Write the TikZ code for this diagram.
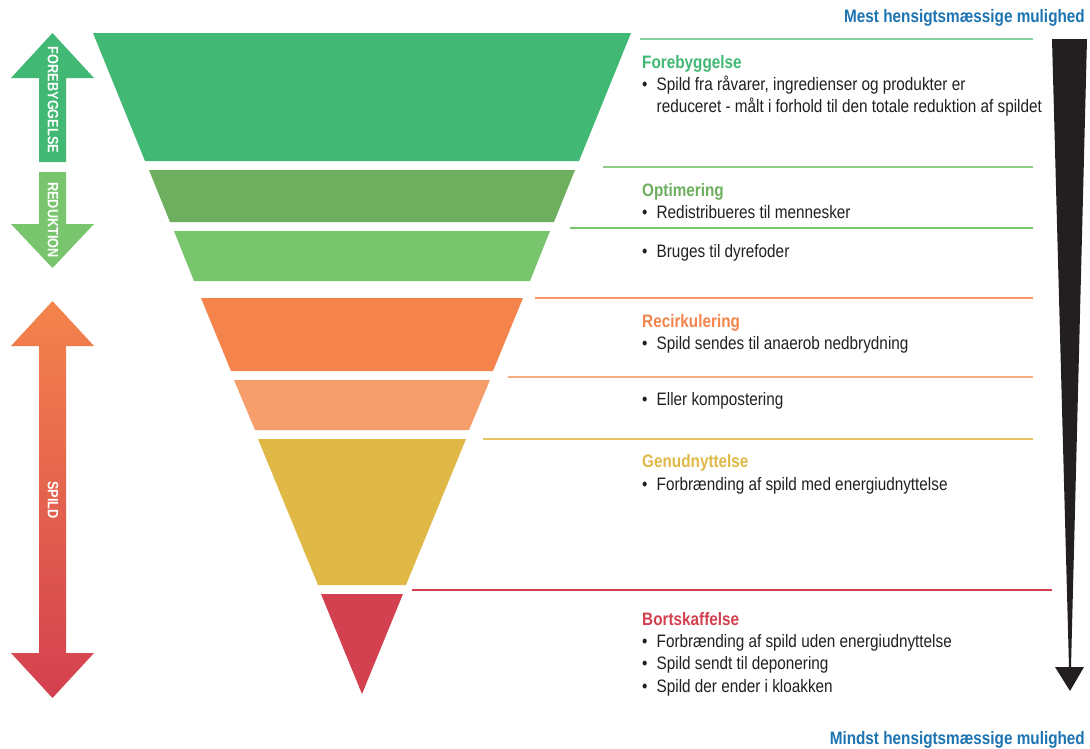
\documentclass[tikz,border=0pt]{standalone}
\usepackage{fontspec}
\setmainfont[FakeStretch=0.85]{Liberation Sans}

\definecolor{fgreen}{HTML}{41B873}
\definecolor{ogreen}{HTML}{6DAF5F}
\definecolor{lgreen}{HTML}{79C56E}
\definecolor{rorange}{HTML}{F4844C}
\definecolor{lorange}{HTML}{F69D6C}
\definecolor{gyellow}{HTML}{E0B846}
\definecolor{bred}{HTML}{D3404F}
\definecolor{tgray}{HTML}{231F20}
\definecolor{mblue}{HTML}{1C74B2}

\newcommand{\bul}{\makebox[14.5pt][l]{\textbullet}}

\begin{document}
\begin{tikzpicture}[x=1pt,y=-1pt,
    txt/.style={anchor=base west, inner sep=0pt, text=tgray, font=\fontsize{18}{21}\selectfont},
    head/.style={txt, font=\fontsize{18}{21}\selectfont\bfseries},
    side/.style={rotate=-90, inner sep=0pt, text=white, font=\fontsize{15}{18}\selectfont\bfseries},
    sep/.style={line width=1.2pt}]
  \fill [white] (0,0) rectangle (1090,748);
  \useasboundingbox (0,0) rectangle (1090,748);

  % funnel
  \fill [fgreen] (93,33) -- (631,33) -- (579,161) -- (145,161) -- cycle;
  \fill [ogreen] (149,170) -- (575,170) -- (554,222) -- (170,222) -- cycle;
  \fill [lgreen] (174,231) -- (550,231) -- (530,281) -- (194,281) -- cycle;
  \fill [rorange] (201,298) -- (523,298) -- (493,371) -- (231,371) -- cycle;
  \fill [lorange] (234,380) -- (490,380) -- (469,430) -- (255,430) -- cycle;
  \fill [gyellow] (258,439) -- (466,439) -- (406,585) -- (318,585) -- cycle;
  \fill [bred] (321,594) -- (403,594) -- (362,694) -- cycle;

  % left arrows
  \fill [fgreen] (52.5,33) -- (94,78) -- (66,78) -- (66,162) -- (39,162) -- (39,78) -- (11,78) -- cycle;
  \fill [lgreen] (39,172) -- (66,172) -- (66,224) -- (94,224) -- (52.5,268) -- (11,224) -- (39,224) -- cycle;
  \shade [top color=rorange, bottom color=bred] (52.5,301) -- (94,346) -- (66,346) -- (66,653) -- (94,653)
    -- (52.5,698) -- (11,653) -- (39,653) -- (39,346) -- (11,346) -- cycle;
  \node [side] (forebyg) at (53,100) {FOREBYGGELSE};
  \node [side] (reduk) at (53,220) {REDUKTION};
  \node [side] (spild) at (53,500) {SPILD};

  % black wedge
  \fill [tgray] (1052,39) -- (1087,39) -- (1071,667) -- (1084,667) -- (1070,691) -- (1055,667) -- (1069,667) -- cycle;

  % separators
  \draw [sep, fgreen!65] (640,39) -- (1033,39);
  \draw [sep, lgreen!85] (603,167) -- (1033,167);
  \draw [sep, lgreen] (570,228) -- (1033,228);
  \draw [sep, rorange!85] (535,298) -- (1033,298);
  \draw [sep, lorange!85] (508,377) -- (1033,377);
  \draw [sep, gyellow!85] (483,439) -- (1033,439);
  \draw [sep, bred] (412,590) -- (1052,590);

  % texts
  \node [head, anchor=base east, text=mblue] (mest) at (1085,22.5) {Mest hensigtsmæssige mulighed};
  \node [head, anchor=base east, text=mblue] (mindst) at (1085,744.5) {Mindst hensigtsmæssige mulighed};

  \node [head, text=fgreen] (fb) at (642,68.5) {Forebyggelse};
  \node [txt] (fb1) at (642,90.5) {\bul Spild fra råvarer, ingredienser og produkter er};
  \node [txt] (fb2) at (656.5,112.5) {reduceret - målt i forhold til den totale reduktion af spildet};

  \node [head, text=ogreen] (op) at (642,196.5) {Optimering};
  \node [txt] (op1) at (642,218.5) {\bul Redistribueres til mennesker};
  \node [txt] (op2) at (642,257.5) {\bul Bruges til dyrefoder};

  \node [head, text=rorange] (re) at (642,327.5) {Recirkulering};
  \node [txt] (re1) at (642,349.5) {\bul Spild sendes til anaerob nedbrydning};
  \node [txt] (re2) at (642,405.5) {\bul Eller kompostering};

  \node [head, text=gyellow] (ge) at (642,467.5) {Genudnyttelse};
  \node [txt] (ge1) at (642,490.5) {\bul Forbrænding af spild med energiudnyttelse};

  \node [head, text=bred] (bo) at (642,625.5) {Bortskaffelse};
  \node [txt] (bo1) at (642,647.5) {\bul Forbrænding af spild uden energiudnyttelse};
  \node [txt] (bo2) at (642,669.5) {\bul Spild sendt til deponering};
  \node [txt] (bo3) at (642,692.5) {\bul Spild der ender i kloakken};
\end{tikzpicture}
\end{document}
